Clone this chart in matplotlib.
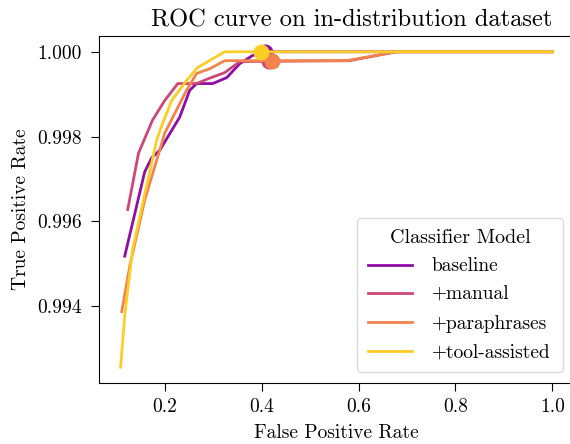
import numpy as np
import matplotlib.pyplot as plt

plt.rcParams['font.family'] = ['cmr10', 'DejaVu Serif']
plt.rcParams['mathtext.fontset'] = 'cm'
plt.rcParams['axes.unicode_minus'] = False
plt.rcParams['axes.formatter.use_mathtext'] = True

labels = ['baseline', '+manual', '+paraphrases', '+tool-assisted']

fpr_base = [0.1175, 0.1588, 0.1732, 0.19, 0.231, 0.2515, 0.266, 0.299, 0.328, 0.355, 0.381, 0.406, 1.0]
tpr_base = [0.99518, 0.99717, 0.9975, 0.99768, 0.99846, 0.99909, 0.99925, 0.99925, 0.99939, 0.99972, 0.99991, 1.0, 1.0]

fpr_manual = [0.1237, 0.146, 0.175, 0.2, 0.227, 0.266, 0.291, 0.324, 0.355, 0.581, 0.678, 1.0]
tpr_manual = [0.99628, 0.99761, 0.99839, 0.99885, 0.99925, 0.99925, 0.99937, 0.99951, 0.99977, 0.99979, 1.0, 1.0]

fpr_para = [0.1113, 0.128, 0.159, 0.196, 0.2, 0.245, 0.266, 0.293, 0.324, 0.575, 0.678, 1.0]
tpr_para = [0.99387, 0.99495, 0.99651, 0.99792, 0.99808, 0.99909, 0.99949, 0.9996, 0.99979, 0.99979, 1.0, 1.0]

fpr_tool = [0.109, 0.1175, 0.134, 0.1835, 0.196, 0.2144, 0.245, 0.268, 0.324, 1.0]
tpr_tool = [0.99256, 0.99378, 0.99535, 0.99792, 0.99832, 0.99885, 0.99932, 0.99963, 1.0, 1.0]

# chosen operating points
best_fpr = [0.406, 0.415, 0.4206, 0.398]
best_tpr = [1.0, 0.99979, 0.99979, 1.0]

curves = [(fpr_base, tpr_base), (fpr_manual, tpr_manual), (fpr_para, tpr_para), (fpr_tool, tpr_tool)]
colors = plt.cm.plasma([0.3, 0.5, 0.7, 0.9])

fig = plt.figure(figsize=(5.7, 4.44), dpi=100)
ax = fig.add_axes([99/570, 61/444, 475/570, 347/444])

for (x, y), c, lab, bx, by in zip(curves, colors, labels, best_fpr, best_tpr):
    ax.plot(x, y, color=c, lw=2, label=lab)
    ax.plot(bx, by, 'o', color=c, ms=10.5)

ax.set_xticks([0.2, 0.4, 0.6, 0.8, 1.0])
ax.set_yticks([0.994, 0.996, 0.998, 1.000])
ax.set_yticklabels(['0.994', '0.996', '0.998', '1.000'])
ax.set_xticklabels(['0.2', '0.4', '0.6', '0.8', '1.0'])
ax.tick_params(labelsize=14, length=6, pad=5)
ax.tick_params(axis='y', pad=6.5)
ax.set_xlabel('False Positive Rate', fontsize=14, labelpad=6)
ax.set_ylabel('True Positive Rate', fontsize=14, labelpad=5)
ax.set_title('ROC curve on in-distribution dataset', fontsize=17.6, pad=7, x=0.533)

leg = ax.legend(title='Classifier Model', loc='lower left', fontsize=14, title_fontsize=14.5,
                bbox_to_anchor=(0.5432, 0.0317, 0.4337, 0.5), mode='expand', borderaxespad=0,
                handlelength=2.3, handletextpad=1.0, labelspacing=0.55, borderpad=0.55)
leg.get_frame().set_edgecolor('lightgray')

fig.savefig('out.png', dpi=100)
